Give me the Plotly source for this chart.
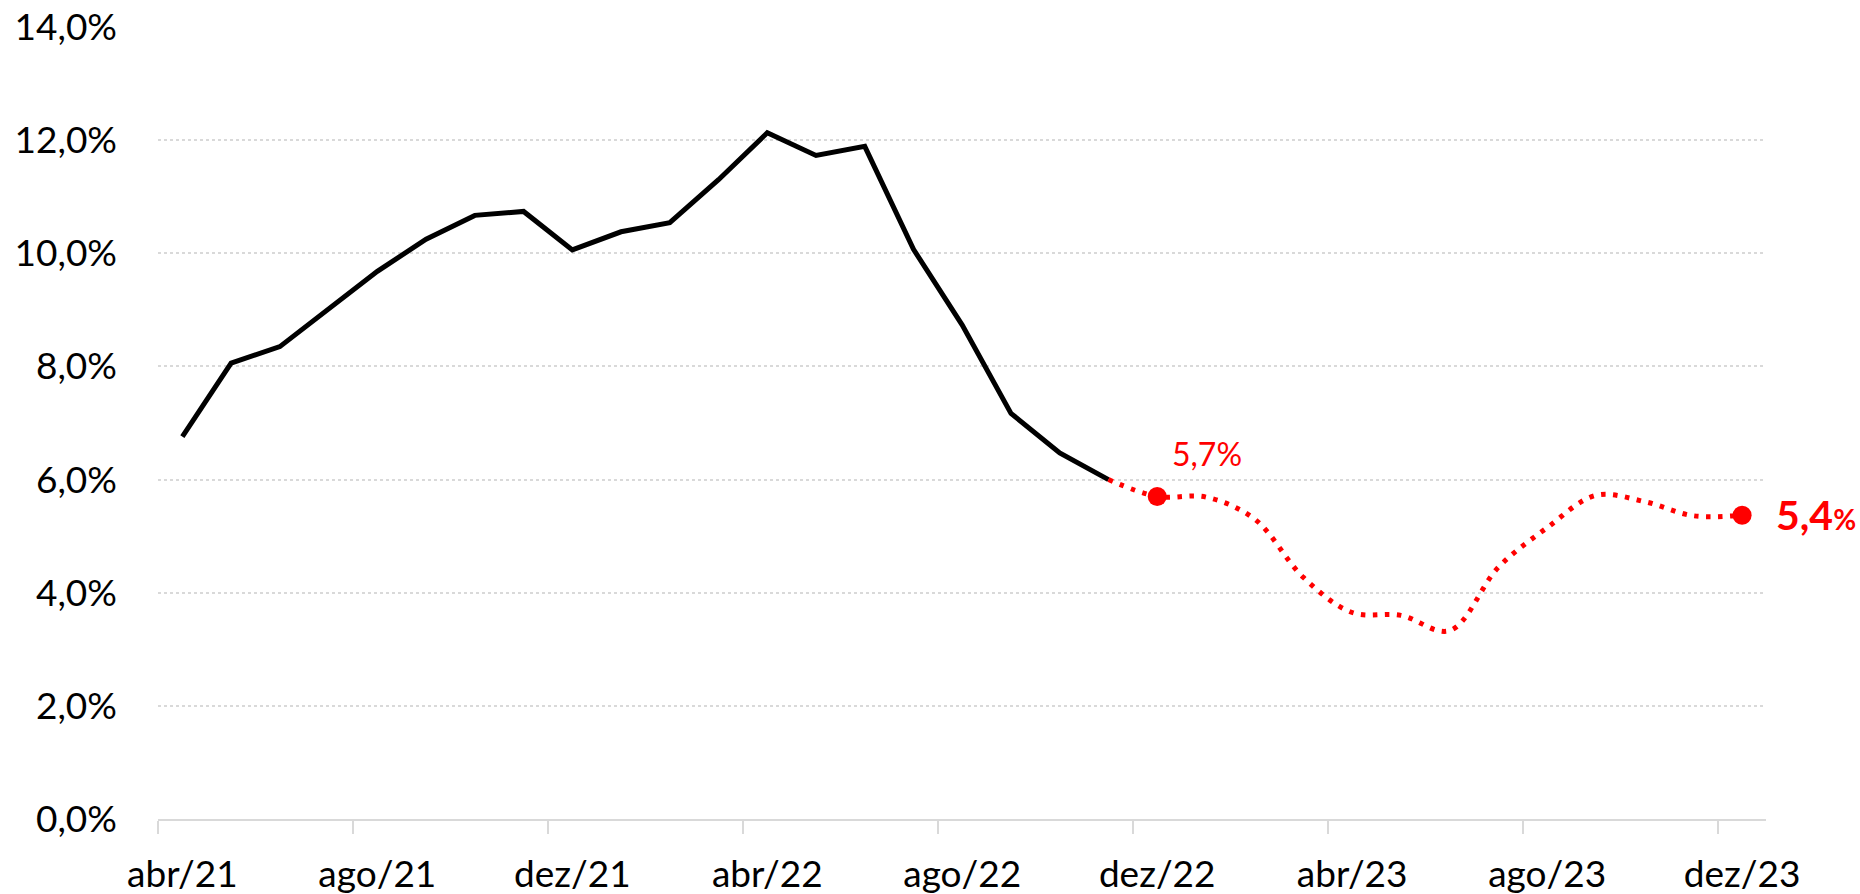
import plotly.graph_objects as go

# meses (eixo de categorias)
months = ["abr/21", "mai/21", "jun/21", "jul/21", "ago/21", "set/21", "out/21", "nov/21",
          "dez/21", "jan/22", "fev/22", "mar/22", "abr/22", "mai/22", "jun/22", "jul/22",
          "ago/22", "set/22", "out/22", "nov/22", "dez/22", "jan/23", "fev/23", "mar/23",
          "abr/23", "mai/23", "jun/23", "jul/23", "ago/23", "set/23", "out/23", "nov/23",
          "dez/23"]

# IPCA acumulado em 12 meses - realizado (abr/21 a nov/22)
realizado = [6.76, 8.06, 8.35, 9.02, 9.68, 10.25, 10.67, 10.74, 10.06, 10.38, 10.54, 11.30,
             12.13, 11.73, 11.89, 10.07, 8.73, 7.17, 6.47, 6.0]

# projecao (nov/22 a dez/23)
projecao = [6.0, 5.7, 5.69, 5.3, 4.27, 3.65, 3.60, 3.33, 4.45, 5.15, 5.72, 5.61, 5.36, 5.37]

months_real = months[:len(realizado)]
months_proj = months[len(realizado) - 1:]

# pontos destacados: dez/22 e dez/23
destaque_idx = [1, len(projecao) - 1]
destaque_x = [months_proj[i] for i in destaque_idx]
destaque_y = [projecao[i] for i in destaque_idx]

RED = "#FF0000"
FONT = "Lato"


def fmt(v):
    return f"{v:.1f}".replace(".", ",")


fig = go.Figure()

fig.add_trace(go.Scatter(
    x=months_real, y=realizado, mode="lines",
    line=dict(color="#000000", width=5),
    hoverinfo="skip", showlegend=False,
))

fig.add_trace(go.Scatter(
    x=months_proj, y=projecao, mode="lines",
    line=dict(color=RED, width=5, dash="4.5px,7.5px", shape="spline", smoothing=1),
    hoverinfo="skip", showlegend=False,
))

fig.add_trace(go.Scatter(
    x=destaque_x, y=destaque_y, mode="markers",
    marker=dict(color=RED, size=19),
    hoverinfo="skip", showlegend=False,
))

fig.add_annotation(
    x=destaque_x[0], y=destaque_y[0], text=fmt(destaque_y[0]) + "%",
    showarrow=False, xanchor="center", yanchor="middle",
    xshift=50, yshift=43,
    font=dict(family=FONT, size=32, color=RED),
)
fig.add_annotation(
    x=destaque_x[1], y=destaque_y[1],
    text="<b>" + fmt(destaque_y[1]) + "<span style='font-size:28px'>%</span></b>",
    showarrow=False, xanchor="left", yanchor="middle",
    xshift=32, yshift=1,
    font=dict(family=FONT, size=41, color=RED),
)

fig.update_layout(
    width=1860, height=894,
    margin=dict(l=158, r=94, t=27, b=75, autoexpand=False),
    paper_bgcolor="white", plot_bgcolor="white",
    separators=",.",
    font=dict(family=FONT, size=37, color="#000000"),
)

fig.update_xaxes(
    type="category", categoryorder="array", categoryarray=months,
    range=[-0.5, len(months) - 0.51],
    tickmode="array", tickvals=months[::4], tickangle=0,
    tickson="boundaries", ticks="outside", ticklen=13, tickwidth=2, tickcolor="#D9D9D9",
    showline=True, linecolor="#D9D9D9", linewidth=2,
    showgrid=False, zeroline=False, automargin=False,
    ticklabelstandoff=22,
    tickfont=dict(family=FONT, size=37, color="#000000"),
)

fig.update_yaxes(
    range=[0, 14], tickmode="linear", tick0=0, dtick=2,
    tickformat=".1f", ticksuffix="%",
    showgrid=True, gridcolor="#D9D9D9", gridwidth=1.5, griddash="dot",
    zeroline=False, showline=False, ticks="", automargin=False,
    ticklabelstandoff=40,
    tickfont=dict(family=FONT, size=37, color="#000000"),
)

fig.write_html("out.html", config={"displayModeBar": False},
               post_script="document.body.style.margin='0';document.body.style.overflow='hidden';")
